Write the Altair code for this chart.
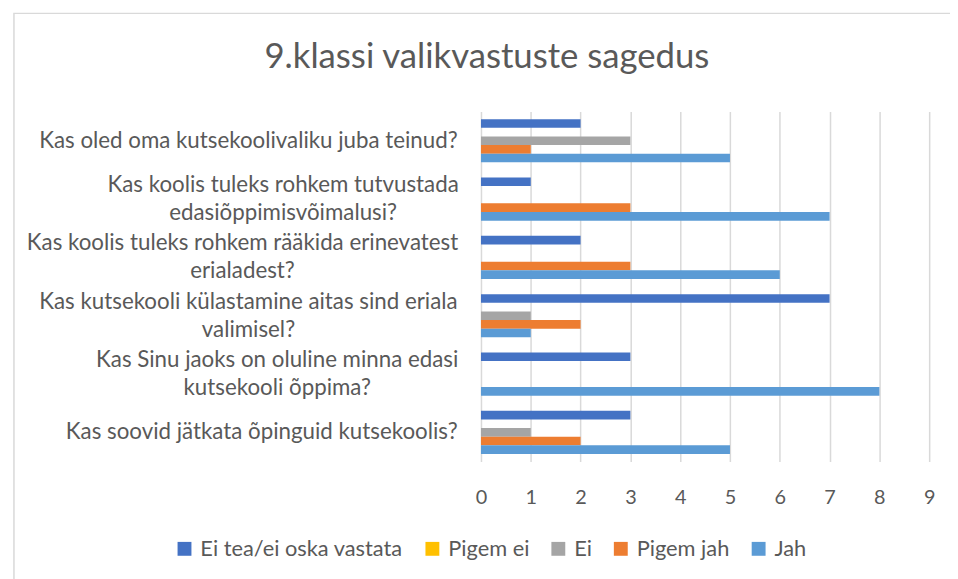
import altair as alt
import pandas as pd

questions = [
    ["Kas oled oma kutsekoolivaliku juba teinud?"],
    ["Kas koolis tuleks rohkem tutvustada", "edasiõppimisvõimalusi?"],
    ["Kas koolis tuleks rohkem rääkida erinevatest", "erialadest?"],
    ["Kas kutsekooli külastamine aitas sind eriala", "valimisel?"],
    ["Kas Sinu jaoks on oluline minna edasi", "kutsekooli õppima?"],
    ["Kas soovid jätkata õpinguid kutsekoolis?"],
]
series = ["Ei tea/ei oska vastata", "Pigem ei", "Ei", "Pigem jah", "Jah"]
colors = ["#4472C4", "#FFC000", "#A5A5A5", "#ED7D31", "#5B9BD5"]

ei_tea = [2, 1, 2, 7, 3, 3]
pigem_ei = [0, 0, 0, 0, 0, 0]
ei = [3, 0, 0, 1, 0, 1]
pigem_jah = [1, 3, 3, 2, 0, 2]
jah = [5, 7, 6, 1, 8, 5]

values = [ei_tea, pigem_ei, ei, pigem_jah, jah]
cats = ["\n".join(q) for q in questions]

rows = []
for s, vals in zip(series, values):
    for c, v in zip(cats, vals):
        rows.append({"kysimus": c, "seeria": s, "vaartus": v})
df = pd.DataFrame(rows)

FONT = "Lato"
GREY = "#595959"

multi = "indexof(datum.value, '\\n') >= 0"
# wrapped labels: lines centred on each other, block right-aligned to the plot
label_align = {"condition": {"test": multi, "value": "center"}, "value": "right"}
label_offset = {"condition": {"test": multi, "value": -14}, "value": 0}
label_padding = {
    "condition": [
        {"test": "indexof(datum.value, 'tutvustada') >= 0", "value": 200},
        {"test": "indexof(datum.value, 'erinevatest') >= 0", "value": 241},
        {"test": "indexof(datum.value, 'külastamine') >= 0", "value": 235},
        {"test": "indexof(datum.value, 'Sinu jaoks') >= 0", "value": 206},
    ],
    "value": 24,
}

bars = alt.Chart(df).mark_bar().encode(
    x=alt.X("vaartus:Q",
            scale=alt.Scale(domain=[0, 9], nice=False),
            axis=alt.Axis(values=list(range(10)), title=None, domain=False, ticks=False,
                          grid=True, gridColor="#d9d9d9", gridWidth=1.5,
                          labelFont=FONT, labelFontSize=20, labelColor=GREY,
                          labelPadding=26, labelFlush=False)),
    y=alt.Y("kysimus:N", sort=cats,
            scale=alt.Scale(paddingInner=0.26, paddingOuter=0.13),
            axis=alt.Axis(title=None, domain=False, ticks=False,
                          labelExpr="split(datum.label, '\\n')",
                          labelFont=FONT, labelFontSize=22.5, labelColor=GREY,
                          labelLineHeight=28, labelLimit=0,
                          labelAlign=label_align, labelOffset=label_offset,
                          labelPadding=label_padding)),
    yOffset=alt.YOffset("seeria:N", sort=series,
                        scale=alt.Scale(paddingInner=0, paddingOuter=0)),
    color=alt.Color("seeria:N", sort=series,
                    scale=alt.Scale(domain=series, range=colors),
                    legend=alt.Legend(title=None, orient="none", direction="horizontal",
                                      legendX=-310, legendY=430,
                                      symbolType="square", symbolSize=196,
                                      symbolStrokeWidth=0, labelLimit=0,
                                      labelFont=FONT, labelFontSize=22, labelColor=GREY,
                                      labelOffset=5, columnPadding=18)),
)

border = alt.Chart(pd.DataFrame({"a": [0]})).mark_rect(
    fill=None, stroke="#d9d9d9", strokeWidth=1.5
).encode(
    x=alt.value(-471), x2=alt.value(600), y=alt.value(-99), y2=alt.value(600)
)

chart = alt.layer(border, bars).properties(
    width=452, height=353,
    autosize=alt.AutoSizeParams(type="none"),
    padding={"left": 477, "top": 102, "right": 21, "bottom": 116},
    title=alt.TitleParams("9.klassi valikvastuste sagedus", font=FONT, fontSize=35,
                          fontWeight="normal", color=GREY, anchor="middle",
                          dx=-220, dy=63, offset=0),
).configure_view(stroke=None)

chart.save("out.html", embed_options={"renderer": "svg", "actions": False})
